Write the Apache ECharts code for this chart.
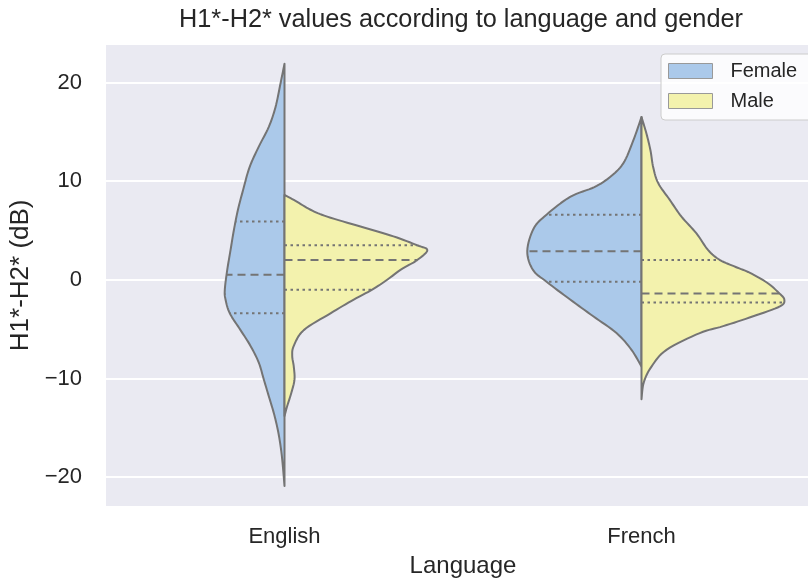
<!DOCTYPE html>
<html>
<head>
<meta charset="utf-8">
<script src="https://cdn.jsdelivr.net/npm/echarts@6/dist/echarts.min.js"></script>
<style>
  html, body { margin: 0; padding: 0; background: #fff; }
  #chart { width: 808px; height: 581px; }
</style>
</head>
<body>
<div id="chart"></div>
<script>
var languages = ['English', 'French'];
var genders = ['Female', 'Male'];

// density outlines: y value (dB) and relative half width (1 = widest)
var englishFemaleY = [21.9, 19.9, 17.5, 15.5, 13.5, 11.4, 9.1, 7.1, 5.0, 3.0, 1.0, -1.0, -2.0, -3.4, -5.1, -6.7, -8.4, -10.1, -11.8, -13.5, -15.2, -16.8, -18.5, -20.9];
var englishFemaleW = [0, 0.028, 0.063, 0.11, 0.18, 0.245, 0.29, 0.326, 0.355, 0.378, 0.401, 0.418, 0.413, 0.383, 0.308, 0.238, 0.18, 0.145, 0.11, 0.075, 0.047, 0.028, 0.014, 0];
var englishMaleY = [8.6, 8.0, 7.1, 6.4, 5.4, 4.4, 3.5, 3.0, 2.0, 1.0, 0.0, -1.0, -2.0, -3.4, -5.1, -6.7, -7.7, -8.8, -10.1, -11.4, -12.8, -13.8];
var englishMaleW = [0, 0.077, 0.182, 0.299, 0.532, 0.763, 0.929, 1.0, 0.929, 0.812, 0.719, 0.614, 0.485, 0.322, 0.135, 0.065, 0.054, 0.065, 0.07, 0.049, 0.019, 0];
var frenchFemaleY = [16.5, 14.1, 11.8, 10.4, 9.4, 8.4, 6.6, 5.2, 2.9, 1.0, -0.2, -2.0, -3.7, -5.4, -7.1, -8.8];
var frenchFemaleW = [0, 0.058, 0.128, 0.222, 0.33, 0.5, 0.665, 0.755, 0.8, 0.76, 0.665, 0.5, 0.338, 0.175, 0.07, 0];
var frenchMaleY = [16.5, 14.8, 13.1, 11.4, 9.8, 8.1, 6.4, 4.7, 3.0, 2.0, 1.3, 0.7, -0.3, -1.3, -2.0, -2.7, -3.7, -4.7, -5.4, -7.1, -8.8, -10.4, -12.1];
var frenchMaleW = [0, 0.035, 0.063, 0.082, 0.117, 0.198, 0.28, 0.385, 0.467, 0.55, 0.66, 0.76, 0.88, 0.96, 1.0, 0.969, 0.782, 0.572, 0.408, 0.175, 0.07, 0.016, 0];

// quartiles [q75, median, q25] per language
var femaleQuartiles = [[5.9, 0.5, -3.4], [6.6, 2.9, -0.2]];
var maleQuartiles = [[3.5, 2.0, -1.0], [2.0, -1.4, -2.3]];

var profiles = {
  Female: [[englishFemaleY, englishFemaleW], [frenchFemaleY, frenchFemaleW]],
  Male: [[englishMaleY, englishMaleW], [frenchMaleY, frenchMaleW]]
};
var quartiles = { Female: femaleQuartiles, Male: maleQuartiles };
var colors = { Female: '#abc9ea', Male: '#f3f2ad' };
var lineColor = '#747474';

function widthAt(ys, ws, v) {
  for (var i = 0; i < ys.length - 1; i++) {
    if (v <= ys[i] && v >= ys[i + 1]) {
      var t = (ys[i] - v) / (ys[i] - ys[i + 1]);
      return ws[i] + (ws[i + 1] - ws[i]) * t;
    }
  }
  return 0;
}

// catmull-rom through the outline points (pixel space)
function smoothLine(pts, steps) {
  var out = [];
  for (var i = 0; i < pts.length - 1; i++) {
    var p0 = pts[Math.max(i - 1, 0)], p1 = pts[i], p2 = pts[i + 1], p3 = pts[Math.min(i + 2, pts.length - 1)];
    for (var s = 0; s < steps; s++) {
      var t = s / steps, t2 = t * t, t3 = t2 * t;
      out.push([0, 1].map(function (k) {
        return 0.5 * (2 * p1[k] + (-p0[k] + p2[k]) * t +
          (2 * p0[k] - 5 * p1[k] + 4 * p2[k] - p3[k]) * t2 +
          (-p0[k] + 3 * p1[k] - 3 * p2[k] + p3[k]) * t3);
      }));
    }
  }
  out.push(pts[pts.length - 1]);
  return out;
}

function makeRender(gender) {
  var side = gender === 'Female' ? -1 : 1;
  return function (params, api) {
    var idx = params.dataIndex;
    var ys = profiles[gender][idx][0], ws = profiles[gender][idx][1];
    var cx = api.coord([idx, 0])[0];
    var half = api.size([1, 0])[0] * 0.4;
    var pts = ys.map(function (y, i) {
      return [cx + side * ws[i] * half, api.coord([idx, y])[1]];
    });
    var curve = smoothLine(pts, 8).map(function (p) {
      var x = side < 0 ? Math.min(p[0], cx) : Math.max(p[0], cx);
      return [x, p[1]];
    });
    var children = [{
      type: 'polygon',
      shape: { points: curve },
      style: { fill: colors[gender], stroke: lineColor, lineWidth: 2, lineJoin: 'round' }
    }];
    quartiles[gender][idx].forEach(function (q, j) {
      var w = widthAt(ys, ws, q) * half;
      var y = api.coord([idx, q])[1];
      children.push({
        type: 'line',
        shape: { x1: cx, y1: y, x2: cx + side * w, y2: y },
        style: { stroke: lineColor, lineWidth: 2, lineDash: j === 1 ? [8, 5] : [2.5, 3.5] }
      });
    });
    return { type: 'group', children: children };
  };
}

var chart = echarts.init(document.getElementById('chart'));
var font = 'Liberation Sans, Arial, sans-serif';

chart.setOption({
  animation: false,
  textStyle: { fontFamily: font, color: '#262626' },
  title: {
    text: 'H1*-H2* values according to language and gender',
    left: 456,
    top: 3,
    textAlign: 'center',
    textStyle: { fontFamily: font, fontSize: 25.3, fontWeight: 'normal', color: '#262626' }
  },
  legend: {
    data: genders,
    orient: 'vertical',
    left: 661,
    top: 54,
    icon: 'rect',
    itemWidth: 44,
    itemHeight: 15,
    itemGap: 10,
    padding: [7, 20, 9, 7],
    backgroundColor: 'rgba(255,255,255,0.8)',
    borderColor: '#cccccc',
    borderWidth: 1,
    borderRadius: 4,
    itemStyle: { borderColor: '#999999', borderWidth: 1 },
    textStyle: { fontFamily: font, fontSize: 20, color: '#262626', padding: [0, 0, 0, 13] }
  },
  grid: {
    left: 106,
    top: 44,
    width: 714,
    height: 462.7,
    outerBoundsMode: 'none',
    containLabel: false,
    show: true,
    backgroundColor: '#eaeaf2',
    borderWidth: 0
  },
  xAxis: {
    type: 'category',
    data: languages,
    name: 'Language',
    nameLocation: 'middle',
    nameGap: 48,
    nameTextStyle: { fontFamily: font, fontSize: 24, color: '#262626' },
    axisLine: { show: false },
    axisTick: { show: false },
    axisLabel: { fontFamily: font, fontSize: 22, color: '#262626', margin: 19 },
    splitLine: { show: false }
  },
  yAxis: {
    type: 'value',
    min: -23,
    max: 23.9,
    name: 'H1*-H2* (dB)',
    nameLocation: 'middle',
    nameGap: 71,
    nameTextStyle: { fontFamily: font, fontSize: 26, color: '#262626' },
    axisLine: { show: false },
    axisTick: { show: false },
    axisLabel: {
      fontFamily: font, fontSize: 22, color: '#262626', margin: 24,
      showMinLabel: false, showMaxLabel: false,
      formatter: function (v) { return v < 0 ? '\u2212' + Math.abs(v) : String(v); }
    },
    splitLine: { lineStyle: { color: '#ffffff', width: 2 } }
  },
  series: genders.map(function (g) {
    return {
      name: g,
      type: 'custom',
      renderItem: makeRender(g),
      itemStyle: { color: colors[g] },
      encode: { x: 0 },
      data: languages.map(function (l, i) { return [i]; })
    };
  })
});
</script>
</body>
</html>
